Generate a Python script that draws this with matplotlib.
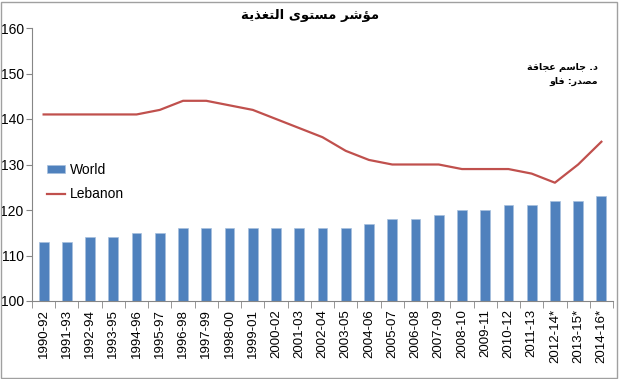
import numpy as np
import matplotlib
matplotlib.use("Agg")
import matplotlib.pyplot as plt
from matplotlib.patches import Rectangle

# data
periods = ["1990-92", "1991-93", "1992-94", "1993-95", "1994-96", "1995-97",
           "1996-98", "1997-99", "1998-00", "1999-01", "2000-02", "2001-03",
           "2002-04", "2003-05", "2004-06", "2005-07", "2006-08", "2007-09",
           "2008-10", "2009-11", "2010-12", "2011-13", "2012-14*", "2013-15*",
           "2014-16*"]
world = [113, 113, 114, 114, 115, 115, 116, 116, 116, 116, 116, 116, 116, 116,
         117, 118, 118, 119, 120, 120, 121, 121, 122, 122, 123]
lebanon = [141, 141, 141, 141, 141, 142, 144, 144, 143, 142, 140, 138, 136, 133,
           131, 130, 130, 130, 129, 129, 129, 128, 126, 130, 135]

# Arabic texts, pre-shaped (presentation forms), reversed to visual order below
title_ar = "\uFEE3\uFE86\uFEB7\uFEAE \uFEE3\uFEB4\uFE98\uFEEE\uFEEF \uFE8D\uFEDF\uFE98\uFED0\uFEAC\uFEF3\uFE94"
author_ar = "\uFEA9. \uFE9F\uFE8E\uFEB3\uFEE2 \uFECB\uFEA0\uFE8E\uFED7\uFE94"
source_ar = "\uFEE3\uFEBC\uFEAA\uFEAD: \uFED3\uFE8E\uFEED"

def visual(s):
    return s[::-1]

plt.rcParams['font.family'] = ['Liberation Sans', 'DejaVu Sans']

fig = plt.figure(figsize=(6.2, 3.79), dpi=100)
ax = fig.add_axes([32 / 620, 1 - 301 / 379, 581 / 620, 273 / 379])

x = np.arange(len(periods))
bars = ax.bar(x, world, width=0.42, bottom=0, color="#4F81BD", edgecolor="#A7C0DE",
              linewidth=0.5, label="World", zorder=2)
line, = ax.plot(x, lebanon, color="#C0504D", linewidth=1.6, label="Lebanon", zorder=3)

ax.set_xlim(-0.5, len(periods) - 0.5)
ax.set_ylim(100, 160)
ax.set_yticks(range(100, 161, 10))

ax.set_xticks(x)
ax.set_xticklabels(periods, rotation=90, fontsize=9.5)
ax.set_xticks(np.arange(-0.5, len(periods), 1), minor=True)
ax.tick_params(axis="x", which="major", length=0, pad=6)
ax.tick_params(axis="x", which="minor", length=5, color="#868686")
ax.tick_params(axis="y", length=4, color="#868686", labelsize=10, pad=2)

for s in ["top", "right"]:
    ax.spines[s].set_visible(False)
for s in ["left", "bottom"]:
    ax.spines[s].set_color("#868686")

ax.legend([bars, line], ["World", "Lebanon"], loc="upper left",
          bbox_to_anchor=(0.017, 0.527), borderaxespad=0, frameon=False,
          fontsize=10, handlelength=1.3, handleheight=0.5,
          handletextpad=0.3, labelspacing=0.75)

fig.text(0.5, 1 - 16 / 379, visual(title_ar), ha="center", va="center",
         fontsize=9.5, fontweight="bold", family="DejaVu Sans")
fig.text(598 / 620, 1 - 67 / 379, visual(author_ar), ha="right", va="center",
         fontsize=6.8, fontweight="bold", family="DejaVu Sans")
fig.text(598 / 620, 1 - 81 / 379, visual(source_ar), ha="right", va="center",
         fontsize=6.8, fontweight="bold", family="DejaVu Sans")

fig.patches.append(Rectangle((1 / 620, 1 / 379), 616 / 620, 376 / 379,
                             transform=fig.transFigure, fill=False,
                             edgecolor="#A0A0A0", linewidth=1))

fig.savefig("out.png", dpi=100)
